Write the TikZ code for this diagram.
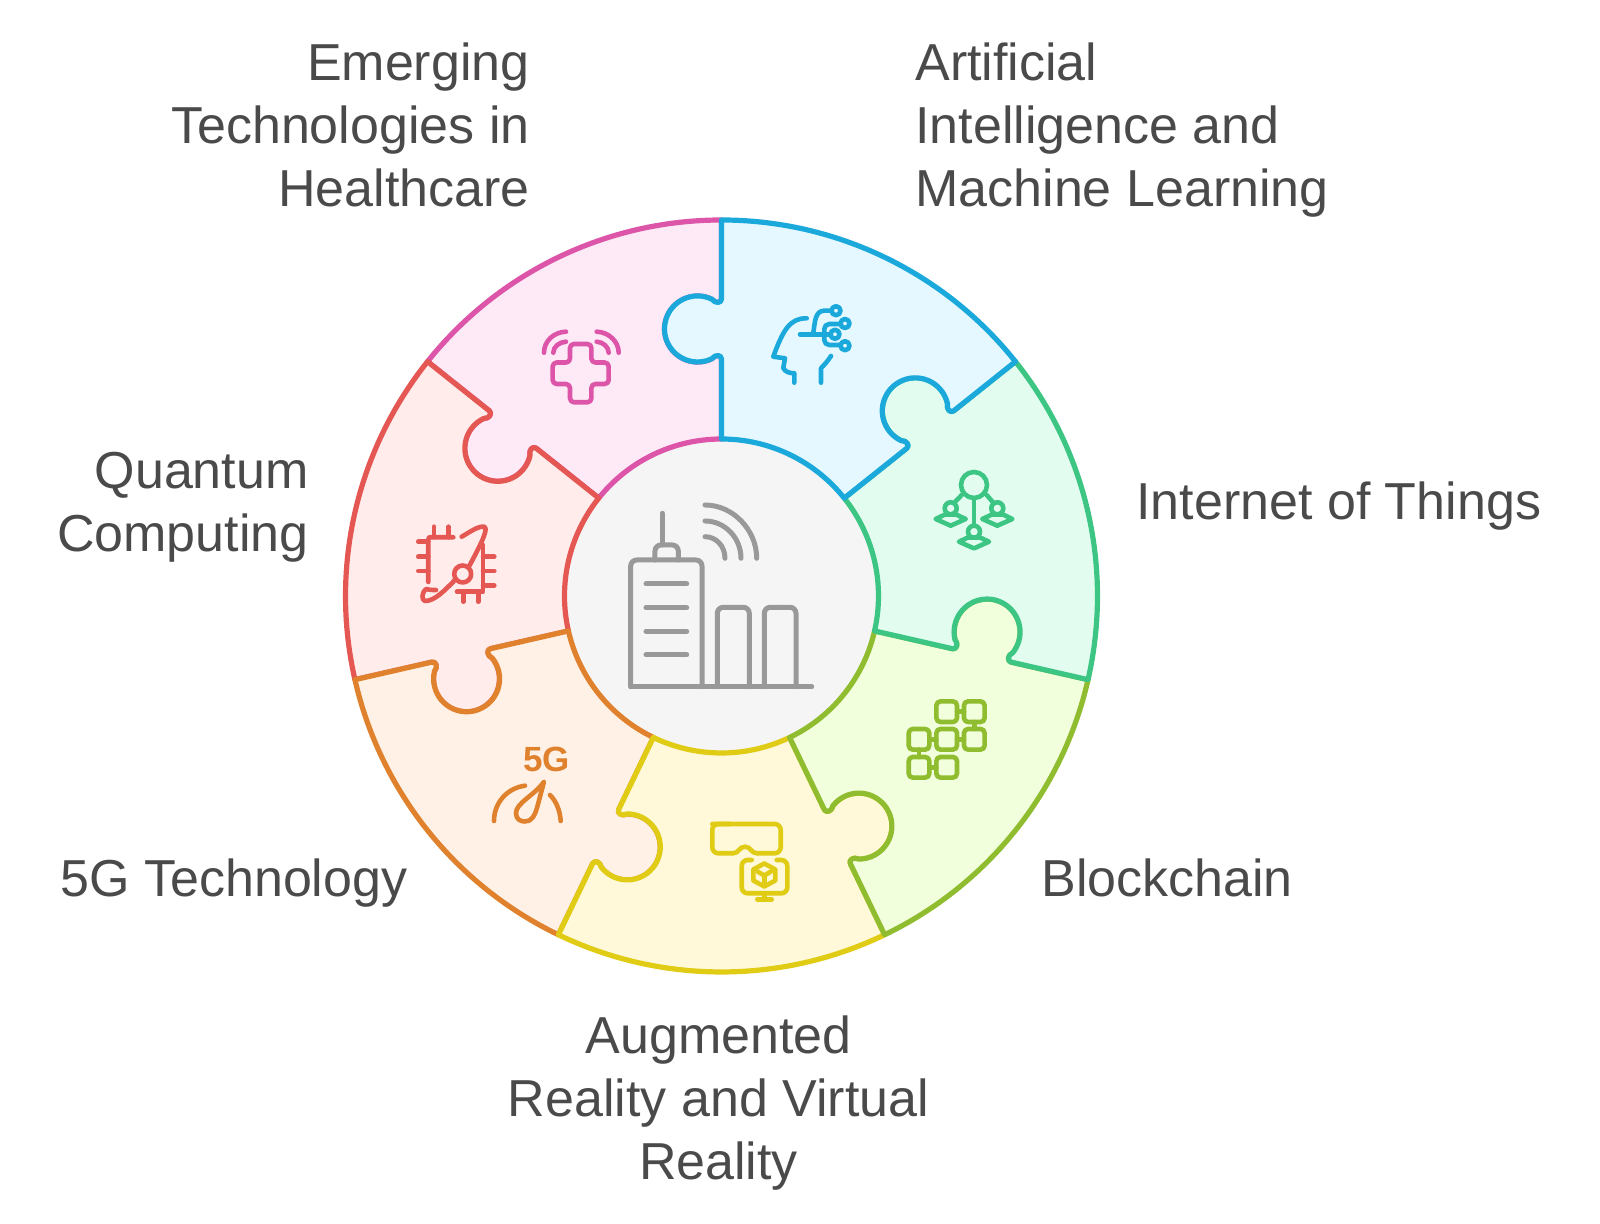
\documentclass[tikz,border=0pt]{standalone}
\usepackage{fontspec}
\setmainfont{Liberation Sans}
\definecolor{aiLine}{HTML}{1BA9DB}\definecolor{aiFill}{HTML}{E6F8FF}
\definecolor{iotLine}{HTML}{3CC583}\definecolor{iotFill}{HTML}{E2FDF0}
\definecolor{bcLine}{HTML}{90BC30}\definecolor{bcFill}{HTML}{F2FFDC}
\definecolor{arLine}{HTML}{E0CB15}\definecolor{arFill}{HTML}{FFF9DA}
\definecolor{fiveLine}{HTML}{E0812E}\definecolor{fiveFill}{HTML}{FFF1E5}
\definecolor{quLine}{HTML}{E55753}\definecolor{quFill}{HTML}{FFECEB}
\definecolor{emLine}{HTML}{DD55A9}\definecolor{emFill}{HTML}{FEEAF6}
\definecolor{hubFill}{HTML}{F5F5F5}\definecolor{hubLine}{HTML}{999999}
\definecolor{labelText}{HTML}{4A4A4A}
% knob of one seam, walked inwards and outwards
\newcommand{\knobin}[1]{-- ([rotate=#1]297,0) .. controls ([rotate=#1]293,0) and ([rotate=#1]292,6) .. ([rotate=#1]296.6,9.5) arc[start angle=#1-26,delta angle=232,radius=33] .. controls ([rotate=#1]242,6) and ([rotate=#1]241,0) .. ([rotate=#1]237,0) -- ([rotate=#1]157,0)}
\newcommand{\knobout}[1]{-- ([rotate=#1]237,0) .. controls ([rotate=#1]241,0) and ([rotate=#1]242,6) .. ([rotate=#1]237.4,9.5) arc[start angle=#1+206,delta angle=-232,radius=33] .. controls ([rotate=#1]292,6) and ([rotate=#1]293,0) .. ([rotate=#1]297,0) -- ([rotate=#1]376,0)}
\newcommand{\piece}[4]{\draw[piece,draw=#1,fill=#2] (#3:376) arc[start angle=#3,end angle=#4,radius=376] \knobin{#4} arc[start angle=#4,end angle=#3,radius=157] \knobout{#3} -- cycle;}
\newcommand{\chainbox}[2]{\draw[icon,bcLine,rounded corners=2pt] (#1-10.3,#2-10.3) rectangle (#1+10.3,#2+10.3);}
\tikzset{
  pix/.style={shift={(-721.5,596)},y=-0.5pt},
  piece/.style={line width=2.6pt,line join=round},
  icon/.style={line width=2.3pt,line cap=round,line join=round},
  hubicon/.style={hubLine,line width=2.5pt,line cap=round,line join=round},
  label/.style={inner sep=0pt,text=labelText,font=\fontsize{26}{31.5}\selectfont}
}
\begin{document}
\begin{tikzpicture}[x=0.5pt,y=0.5pt]
  \useasboundingbox (-721.5,-628) rectangle (878.5,596);
  \fill[hubFill] (0,0) circle (157);

  % pieces, last one on top
  \piece{emLine}{emFill}{-218.57}{-270}
  \piece{quLine}{quFill}{-167.14}{-218.57}
  \piece{fiveLine}{fiveFill}{-115.71}{-167.14}
  \piece{arLine}{arFill}{-64.29}{-115.71}
  \piece{bcLine}{bcFill}{-12.86}{-64.29}
  \piece{iotLine}{iotFill}{38.57}{-12.86}
  \piece{aiLine}{aiFill}{90}{38.57}

  \begin{scope}[pix]
    % labels
    \node[label,anchor=base east,align=right] (emerging) at (530,206.5) {Emerging\\Technologies in\\Healthcare};
    \node[label,anchor=base west,align=left] (artificial) at (915,206.5) {Artificial\\Intelligence and\\Machine Learning};
    \node[label,anchor=base east,align=right] (quantum) at (309,552) {Quantum\\Computing};
    \node[label,anchor=base west] (things) at (1136,520) {Internet of Things};
    \node[label,anchor=base west] (fiveg) at (60,897) {5G Technology};
    \node[label,anchor=base west] (blockchain) at (1041,897) {Blockchain};
    \node[label,anchor=base,align=center] (augmented) at (718.5,1179) {Augmented\\Reality and Virtual\\Reality};

    % hub building
    \draw[hubicon,rounded corners=3pt] (630.7,686.7) -- (630.7,560) -- (702,560) -- (702,686.7);
    \draw[hubicon] (630.7,686.7) -- (811.7,686.7);
    \draw[hubicon,rounded corners=3pt] (655,560) -- (655,545) -- (678.3,545) -- (678.3,560);
    \draw[hubicon] (662.3,513.3) -- (662.3,545);
    \draw[hubicon] (646,584) -- (686.7,584);
    \draw[hubicon] (646,607.7) -- (686.7,607.7);
    \draw[hubicon] (646,631.3) -- (686.7,631.3);
    \draw[hubicon] (646,654.7) -- (686.7,654.7);
    \draw[hubicon,rounded corners=3pt] (717.3,686.7) -- (717.3,607.3) -- (749.3,607.3) -- (749.3,686.7);
    \draw[hubicon,rounded corners=3pt] (764.3,686.7) -- (764.3,607.3) -- (796,607.3) -- (796,686.7);
    \draw[hubicon] (705,505) .. controls (733,505) and (756.7,530) .. (756.7,558.3);
    \draw[hubicon] (705,521) .. controls (725,521) and (741,538) .. (741,558.3);
    \draw[hubicon] (705,536.7) .. controls (716,536.7) and (725,546) .. (725,558.3);

    % artificial intelligence
    \draw[icon,aiLine] (806.7,318.3) .. controls (790,318) and (783,330) .. (773.3,356.7) -- (785,358.3) -- (783.3,368) .. controls (785,372) and (790,373.3) .. (794.3,373.3) -- (794.3,382.7);
    \draw[icon,aiLine] (831,356) .. controls (828,361) and (824,365) .. (821,368.3) -- (821,382.7);
    \draw[icon,aiLine] (800,334.3) -- (830.5,334.3);
    \draw[icon,aiLine] (813.3,333) .. controls (815,322) and (815,311) .. (824,310.7) -- (831.5,310.7);
    \draw[icon,aiLine,rounded corners=2.5pt] (840.5,324) -- (824.3,324) -- (824.3,345) -- (840.7,345);
    \draw[icon,aiLine] (836,310.7) circle (4.5);
    \draw[icon,aiLine] (845,323.5) circle (4.5);
    \draw[icon,aiLine] (835,334.3) circle (4.5);
    \draw[icon,aiLine] (845,345.7) circle (4.5);

    % internet of things
    \draw[icon,iotLine] (974,485) circle (13);
    \draw[icon,iotLine] (974,498.3) -- (974,525.5);
    \draw[icon,iotLine] (961.7,495) -- (955,502);
    \draw[icon,iotLine] (986.7,495) -- (992.7,502);
    \draw[icon,iotLine] (950.7,508.3) circle (6);
    \draw[icon,iotLine] (997.3,508.3) circle (6);
    \draw[icon,iotLine] (974,531.7) circle (6);
    \draw[icon,iotLine] (935.7,519) -- (945,514.5) -- (956,514.5) -- (965.7,519) -- (950.7,525.7) -- cycle;
    \draw[icon,iotLine] (982.3,519) -- (992,514.5) -- (1003,514.5) -- (1012.3,519) -- (997.3,525.7) -- cycle;
    \draw[icon,iotLine] (959,541.7) -- (968,537.5) -- (980,537.5) -- (989,541.7) -- (974,548.4) -- cycle;

    % blockchain
    \chainbox{946.7}{711.7}
    \chainbox{974.3}{711.7}
    \chainbox{919}{739.3}
    \chainbox{946.7}{739.3}
    \chainbox{974.3}{739.3}
    \chainbox{919}{767.3}
    \chainbox{946.7}{767.3}
    \draw[icon,bcLine] (957,711.7) -- (964,711.7);
    \draw[icon,bcLine] (974.3,722) -- (974.3,729);
    \draw[icon,bcLine] (929.3,739.3) -- (936.4,739.3);
    \draw[icon,bcLine] (957,739.3) -- (964,739.3);
    \draw[icon,bcLine] (919,749.6) -- (919,757);
    \draw[icon,bcLine] (929.3,767.3) -- (936.4,767.3);

    % augmented and virtual reality
    \draw[icon,arLine,rounded corners=3pt] (712.3,824) -- (780.7,824) -- (780.7,853.3) -- (757,853.3);
    \draw[icon,arLine] (757,853.3) .. controls (751,853.3) and (751,846.7) .. (745,846.7) .. controls (739,846.7) and (739,853.3) .. (733,853.3);
    \draw[icon,arLine,rounded corners=3pt] (733,853.3) -- (712.3,853.3) -- (712.3,824) -- (730,824);
    \draw[icon,arLine,rounded corners=3pt] (751.7,860) -- (741.7,860) -- (741.7,893.3) -- (787.3,893.3) -- (787.3,860) -- (776.7,860);
    \draw[icon,arLine] (764.3,893.3) -- (764.3,899.3);
    \draw[icon,arLine] (757.3,899.3) -- (771.7,899.3);
    \draw[icon,arLine] (764.3,863.5) -- (775.3,869.5) -- (775.3,880.5) -- (764.3,886.5) -- (753.3,880.5) -- (753.3,869.5) -- cycle;
    \draw[icon,arLine] (757.5,871.5) -- (764.3,875.5) -- (771,871.5);
    \draw[icon,arLine] (764.3,875.5) -- (764.3,883);

    % five g
    \node[inner sep=0pt,text=fiveLine,font=\fontsize{17.5}{20}\bfseries\selectfont] (speed) at (546.7,759.3) {5G};
    \draw[icon,fiveLine] (494,821) .. controls (494,803) and (507,788) .. (525,785.7);
    \draw[icon,fiveLine] (560.7,821) .. controls (560,810) and (556,801) .. (550,795);
    \draw[icon,fiveLine] (544,781.7) .. controls (535,795) and (516,803) .. (516,813) .. controls (516,819) and (520,821.5) .. (525,821.5) .. controls (532,821.5) and (535,815) .. (537,808) -- cycle;

    % quantum computing
    \draw[icon,quLine] (428.3,582) -- (428.3,540) -- (429,537.3) -- (453.3,537.3);
    \draw[icon,quLine] (483,545) -- (483,591.7) -- (457,591.7);
    \draw[icon,quLine] (434,526.7) -- (434,537.3);
    \draw[icon,quLine] (448.3,526.7) -- (448.3,537.3);
    \draw[icon,quLine] (418.3,541.7) -- (428.3,541.7);
    \draw[icon,quLine] (418.3,556.7) -- (428.3,556.7);
    \draw[icon,quLine] (418.3,571) -- (428.3,571);
    \draw[icon,quLine] (483,556.7) -- (494.3,556.7);
    \draw[icon,quLine] (483,571) -- (494.3,571);
    \draw[icon,quLine] (483,585.7) -- (494.3,585.7);
    \draw[icon,quLine] (463.3,591.7) -- (463.3,601.7);
    \draw[icon,quLine] (478.3,591.7) -- (478.3,601.7);
    \draw[icon,quLine] (462.7,574) circle (8.5);
    \draw[icon,quLine] (461.7,536.7) .. controls (470,532) and (478,526) .. (484,526.7) .. controls (488,528) and (485,537) .. (469,566.5);
    \draw[icon,quLine] (455,580) .. controls (445,590) and (435,601) .. (425,601) .. controls (421,600) and (422,592) .. (426,589) .. controls (430,590) and (432,590) .. (436,590);

    % emerging technologies in healthcare
    \draw[icon,emLine,rounded corners=2pt] (570,344) -- (591.4,344) -- (591.4,362.5) -- (608.7,362.5) -- (608.7,384) -- (591.4,384) -- (591.4,402.3) -- (570,402.3) -- (570,384) -- (552.7,384) -- (552.7,362.5) -- (570,362.5) -- cycle;
    \draw[icon,emLine] (544,352.7) .. controls (544,341) and (554,332) .. (566,331.7);
    \draw[icon,emLine] (553.3,352.7) .. controls (553.3,347) and (559,342) .. (566,341.7);
    \draw[icon,emLine] (618.7,352.7) .. controls (618.7,341) and (608,332) .. (596.7,331.7);
    \draw[icon,emLine] (608.7,352.7) .. controls (608.7,347) and (603,342) .. (596.7,341.7);
  \end{scope}
\end{tikzpicture}
\end{document}
